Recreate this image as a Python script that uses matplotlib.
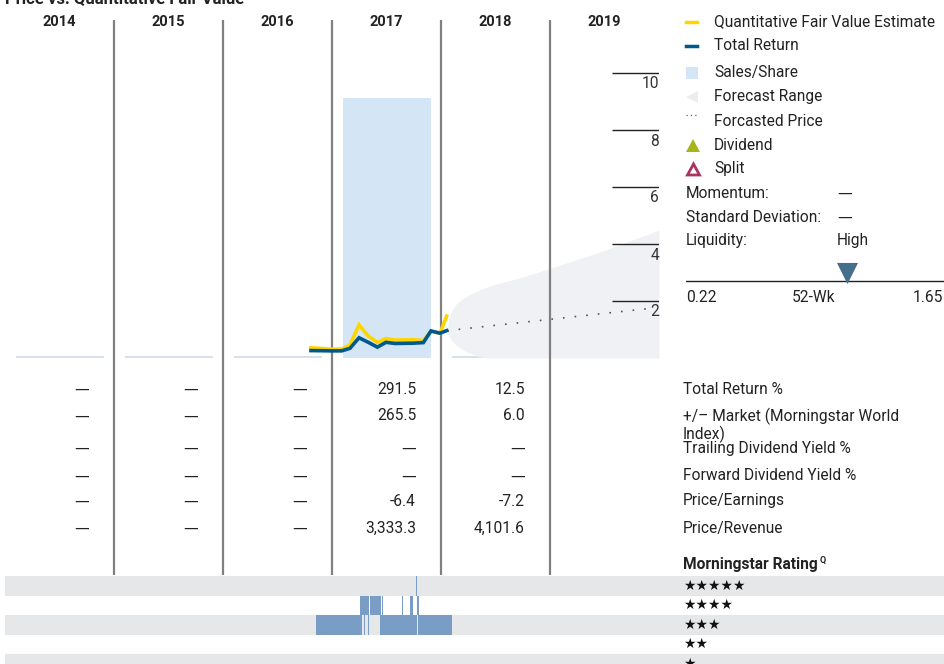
import matplotlib
matplotlib.use('Agg')
import matplotlib.pyplot as plt
from matplotlib.patches import Rectangle, Polygon
from matplotlib.lines import Line2D

FONT = ['Roboto', 'DejaVu Sans']
plt.rcParams['font.family'] = FONT

# ---------------- data ----------------
years = [2014, 2015, 2016, 2017, 2018, 2019]

price_dates = [2016.807, 2016.997, 2017.089, 2017.165, 2017.248, 2017.333, 2017.416,
               2017.495, 2017.578, 2017.746, 2017.838, 2017.908, 2017.991, 2018.052]
total_return = [0.26, 0.25, 0.25, 0.34, 0.71, 0.55, 0.38, 0.55, 0.51, 0.52, 0.54, 0.95, 0.87, 0.96]
fair_value = [0.36, 0.31, 0.31, 0.46, 1.16, 0.77, 0.55, 0.68, 0.63, 0.64, 0.61, 0.93, 0.87, 1.47]

sales_years = [2017]
sales_share = [9.12]

forecast_dates = [2018.055, 2018.073, 2018.101, 2018.147, 2018.239, 2018.330, 2018.422,
                  2018.541, 2018.725, 2019.092, 2019.459, 2020.0]
forecast_upper = [0.95, 1.40, 1.68, 1.93, 2.18, 2.35, 2.49, 2.63, 2.81, 3.26, 3.72, 4.49]
forecast_lower = [0.95, 0.77, 0.60, 0.42, 0.21, 0.07, 0.0, 0.0, 0.0, 0.0, 0.0, 0.0]

forecasted_price_dates = [2018.055, 2019.917]
forecasted_price = [0.96, 1.74]

y_ticks = [2, 4, 6, 8, 10]

row_labels = ['Total Return %', '+/\u2013 Market (Morningstar World\nIndex)',
              'Trailing Dividend Yield %', 'Forward Dividend Yield %',
              'Price/Earnings', 'Price/Revenue']
D = '\u2014'
table_values = [
    [D, D, D, '291.5', '12.5', ''],
    [D, D, D, '265.5', '6.0', ''],
    [D, D, D, D, D, ''],
    [D, D, D, D, D, ''],
    [D, D, D, '-6.4', '-7.2', ''],
    [D, D, D, '3,333.3', '4,101.6', ''],
]

rating_levels = [5, 4, 3, 2, 1]
rating_periods = {
    5: [(2017.771, 2017.779)],
    4: [(2017.257, 2017.339), (2017.349, 2017.450), (2017.457, 2017.464),
        (2017.643, 2017.650), (2017.716, 2017.746), (2017.780, 2017.795)],
    3: [(2016.853, 2017.275), (2017.292, 2017.301), (2017.330, 2017.342),
        (2017.440, 2017.777), (2017.786, 2018.101)],
}

wk52_low, wk52_high, wk52_current = 0.22, 1.65, 1.11

# ---------------- layout ----------------
W, H = 945, 664
X0, COLW = 5, 109          # left edge of 2014 column, column width (px)
BASE_Y, PX_PER_UNIT = 358, 28.5
CHART_TOP = 15
FS = 11.2
TC = '#222222'
DASH_FAMILY = ['DejaVu Sans']


def fx(x):
    return x / W


def fy(y):
    return 1 - y / H


def ypx(year):
    return X0 + (year - 2014) * COLW


fig = plt.figure(figsize=(W / 100, H / 100), dpi=100)

ov = fig.add_axes([0, 0, 1, 1], zorder=0)
ov.set_xlim(0, W)
ov.set_ylim(H, 0)
ov.axis('off')

# rating bands (background) and stars
RT_TOP = 576
ROW_H = 19.5
for i, r in enumerate(rating_levels):
    if r % 2 == 1:
        ov.add_patch(Rectangle((X0, RT_TOP + i * ROW_H), W - X0, ROW_H,
                               color='#E6E7E9', lw=0, zorder=0))
    ov.text(683, RT_TOP + i * ROW_H + ROW_H / 2, '\u2605' * r, fontsize=10,
            family=['DejaVu Sans'], ha='left', va='center', color='#111111', zorder=3)

# rating axes (bars)
r_bottom_val = 5.5 - (H - RT_TOP) / ROW_H
ax_r = fig.add_axes([fx(X0), 0, fx(6 * COLW), (H - RT_TOP) / H], zorder=1)
ax_r.set_xlim(2014, 2020)
ax_r.set_ylim(r_bottom_val, 5.5)
ax_r.axis('off')
ax_r.patch.set_alpha(0)
for r, periods in rating_periods.items():
    for s, e in periods:
        ax_r.barh(r, e - s, left=s, height=1.0, color='#799DC4', lw=0, zorder=2)

# chart axes
ax = fig.add_axes([fx(X0), fy(BASE_Y), fx(6 * COLW), (BASE_Y - CHART_TOP) / H], zorder=2)
ax.set_xlim(2014, 2020)
ax.set_ylim(0, (BASE_Y - CHART_TOP) / PX_PER_UNIT)
ax.axis('off')
ax.patch.set_alpha(0)

# baseline segments in each column
for yr in years:
    ax.hlines(0.02, yr + 11 / COLW, yr + 1 - 10 / COLW, color='#CFDBE8', lw=1.2, zorder=1)

# sales/share bar
ax.bar([y + 0.5 for y in sales_years], sales_share, width=88 / COLW, color='#D4E5F5',
       lw=0, zorder=2)

# forecast range
ax.fill_between(forecast_dates, forecast_lower, forecast_upper, color='#F0F1F4', lw=0, zorder=2)

# separators
sep_top = (BASE_Y - 20) / PX_PER_UNIT
sep_bot = (BASE_Y - 575) / PX_PER_UNIT
ax.vlines(years[1:], sep_bot, sep_top, color='#808080', lw=1.6, zorder=3, clip_on=False)

# y gridlines and labels
ax.hlines(y_ticks, 2020 - 47 / COLW, 2020, color='#222222', lw=1.0, zorder=4)
for v in y_ticks:
    ax.text(2020, v - 11 / PX_PER_UNIT, str(v), ha='right', va='center',
            fontsize=FS, color='#333333', zorder=4)

# forecasted price
ax.plot(forecasted_price_dates, forecasted_price, color='#555555', lw=1.2,
        linestyle=(0, (1, 6)), zorder=4)

# price lines
ax.plot(price_dates, fair_value, color='#FFD500', lw=2.6, zorder=5, solid_joinstyle='miter')
ax.plot(price_dates, total_return, color='#00598C', lw=2.6, zorder=6, solid_joinstyle='miter')

# title (cut off at top)
ov.text(5, 3, 'Price vs. Quantitative Fair Value', fontsize=12, weight='bold',
        ha='left', va='baseline', color=TC)

# year headers
for yr in years:
    ov.text(ypx(yr) + COLW / 2, 22, str(yr), fontsize=10.5, weight='bold',
            ha='center', va='center', color=TC)

# table
row_y = [389, 425.5, 448, 476, 501, 528]
for i, (lab, vals) in enumerate(zip(row_labels, table_values)):
    for j, v in enumerate(vals):
        if v:
            kw = {'family': DASH_FAMILY, 'fontsize': 10.5} if v == D else {'fontsize': FS}
            ov.text(ypx(years[j]) + COLW - 25, row_y[i] if i != 1 else 416, v,
                    ha='right', va='center', color=TC, **kw)
    ov.text(683, row_y[i], lab, fontsize=FS, ha='left', va='center',
            color=TC, linespacing=1.05)

# legend
LX, TX = 686, 714
leg = [(22, 'Quantitative Fair Value Estimate'), (46, 'Total Return'), (73, 'Sales/Share'),
       (97, 'Forecast Range'), (121, 'Forcasted Price'), (145, 'Dividend'), (169, 'Split')]
for y, t in leg:
    ov.text(TX, y, t, fontsize=FS, ha='left', va='center', color=TC)
ov.add_line(Line2D([LX, LX + 11], [22, 22], color='#FFD500', lw=2.5))
ov.add_line(Line2D([LX, LX + 11], [46, 46], color='#00598C', lw=2.5))
ov.add_patch(Rectangle((LX, 67), 12, 12, color='#D4E5F5', lw=0))
ov.add_patch(Polygon([(LX, 97), (LX + 12, 91), (LX + 12, 103)], closed=True,
                     color='#ECEDF0', lw=0))
ov.add_line(Line2D([LX, LX + 11], [115, 115], color='#666666', lw=0.9, linestyle=(0, (1, 2.5))))
ov.add_patch(Polygon([(LX, 152), (LX + 14, 152), (LX + 7, 139)], closed=True,
                     color='#A8B41E', lw=0))
ov.add_patch(Polygon([(LX + 1.5, 175), (LX + 13.5, 175), (LX + 7.5, 164)], closed=True,
                     facecolor='white', edgecolor='#A8345F', lw=2.0))

for y, lab, val in [(193, 'Momentum:', D), (217, 'Standard Deviation:', D), (241, 'Liquidity:', 'High')]:
    ov.text(686, y, lab, fontsize=FS, ha='left', va='center', color=TC)
    kw = {'family': DASH_FAMILY, 'fontsize': 10.5} if val == D else {'fontsize': FS}
    ov.text(837, y, val, ha='left', va='center', color=TC, **kw)

# 52-week range
ax_w = fig.add_axes([fx(686), fy(300), fx(945 - 686), 40 / H], zorder=1)
ax_w.set_xlim(wk52_low, wk52_high)
ax_w.set_ylim(300, 260)
ax_w.axis('off')
ax_w.patch.set_alpha(0)
ax_w.axhline(281, color='#222222', lw=1.0)
ax_w.scatter([wk52_current], [272.5], marker='v', s=230, color='#466F8D', lw=0, zorder=3)
ov.text(686, 298, f'{wk52_low:.2f}', fontsize=FS, ha='left', va='center', color=TC)
ov.text(814, 298, '52-Wk', fontsize=FS, ha='center', va='center', color=TC)
ov.text(943, 298, f'{wk52_high:.2f}', fontsize=FS, ha='right', va='center', color=TC)

# Morningstar rating
t = ov.text(683, 565, 'Morningstar Rating', fontsize=FS, weight='bold', ha='left',
            va='center', color=TC)
ov.annotate('Q', xy=(1, 1), xycoords=t, xytext=(1, 1), textcoords='offset points',
            fontsize=6.5, weight='bold', ha='left', va='top', color=TC)

fig.savefig('out.png', dpi=100)
